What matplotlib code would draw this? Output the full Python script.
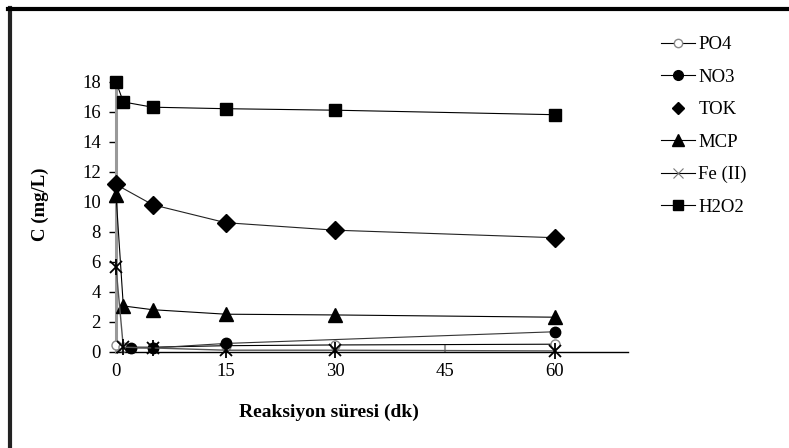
import matplotlib
matplotlib.use("Agg")
import matplotlib.pyplot as plt
from matplotlib.lines import Line2D

plt.rcParams['font.family'] = ['Liberation Serif', 'DejaVu Serif']

# Data
t_main = [0, 1, 5, 15, 30, 60]
po4 = [0.45, 0.3, 0.3, 0.4, 0.45, 0.5]
t_no3 = [2, 5, 15, 60]
no3 = [0.25, 0.25, 0.55, 1.33]
t_tok = [0, 5, 15, 30, 60]
tok = [11.15, 9.8, 8.6, 8.1, 7.6]
mcp = [10.45, 3.05, 2.8, 2.5, 2.45, 2.3]
fe2 = [5.65, 0.3, 0.25, 0.1, 0.1, 0.05]
h2o2 = [18.0, 16.65, 16.3, 16.2, 16.1, 15.8]
xticks = [0, 15, 30, 45, 60]
yticks = [0, 2, 4, 6, 8, 10, 12, 14, 16, 18]

fig = plt.figure(figsize=(7.89, 4.48), dpi=100)
ax = fig.add_axes([116/789, 96.3/448, (628-116)/789, (351.7-81.7)/448])

lw = 0.8
common = dict(clip_on=False)
ax.plot(t_main, po4, color='black', lw=lw, marker='o', ms=6.5, mfc='white',
        mec='#888888', mew=1.0, label='PO4', zorder=3, **common)
ax.plot(t_no3, no3, color='#333333', lw=lw, marker='o', ms=7.5, mfc='black',
        mec='black', label='NO3', zorder=3, **common)
ax.plot(t_tok, tok, color='#222222', lw=lw, marker='D', ms=9, mfc='black',
        mec='black', label='TOK', zorder=3, **common)
ax.plot(t_main, mcp, color='black', lw=lw, marker='^', ms=10.5, mfc='black',
        mec='black', label='MCP', zorder=3, **common)
ax.plot(t_main, fe2, color='#555555', lw=1.0, marker='x', ms=8, mfc='black',
        mec='black', mew=1.3, label='Fe (II)', zorder=4, **common)
ax.plot(t_main, fe2, linestyle='none', marker='|', ms=11, mec='black', mew=1.3,
        zorder=4, **common)
ax.plot(t_main, h2o2, color='black', lw=lw, marker='s', ms=8, mfc='black',
        mec='black', label='H2O2', zorder=3, **common)

ax.set_xlim(0, 70)
ax.set_ylim(0, 18)
ax.set_xticks(xticks)
ax.set_yticks(yticks)
for s in ['top', 'right']:
    ax.spines[s].set_visible(False)
ax.spines['left'].set_color('#999999')
ax.spines['left'].set_linewidth(2.2)
ax.spines['bottom'].set_color('black')
ax.spines['bottom'].set_linewidth(1.0)
ax.tick_params(axis='y', direction='out', length=5, width=1, color='black',
               labelsize=13.5, pad=6)
ax.tick_params(axis='x', direction='in', length=5, width=1.5, color='#999999',
               labelsize=13.5, pad=8)

# Legend
handles = [
    Line2D([], [], color='black', lw=lw, marker='o', ms=6, mfc='white', mec='#888888'),
    Line2D([], [], color='black', lw=lw, marker='o', ms=7, mfc='black', mec='black'),
    Line2D([], [], color='none', lw=0, marker='D', ms=6, mfc='black', mec='black'),
    Line2D([], [], color='black', lw=lw, marker='^', ms=8, mfc='black', mec='black'),
    Line2D([], [], color='black', lw=lw, marker='x', ms=7, mec='#777777', mew=0.8),
    Line2D([], [], color='black', lw=lw, marker='s', ms=7, mfc='black', mec='black'),
]
labels = ['PO4', 'NO3', 'TOK', 'MCP', 'Fe (II)', 'H2O2']
fig.legend(handles, labels, loc='upper left', bbox_to_anchor=(661/789, 1 - 36/448),
           frameon=False, fontsize=13.5, handlelength=1.8, handletextpad=0.2,
           labelspacing=0.82, borderaxespad=0, borderpad=0)

fig.text(329/789, 1 - 412/448, 'Reaksiyon süresi (dk)', ha='center', va='center',
         fontsize=14, fontweight='bold')
fig.text(40/789, 1 - 204/448, 'C (mg/L)', ha='center', va='center',
         fontsize=13.5, fontweight='bold', rotation=90)

# Outer frame (left and top)
fig.add_artist(Line2D([9.5/789, 9.5/789], [1 - 8.5/448, 0], color='#222222', lw=3,
                      transform=fig.transFigure))
fig.add_artist(Line2D([8/789, 1], [1 - 9/448, 1 - 9/448], color='black', lw=3,
                      transform=fig.transFigure))

fig.savefig('out.png', dpi=100)
